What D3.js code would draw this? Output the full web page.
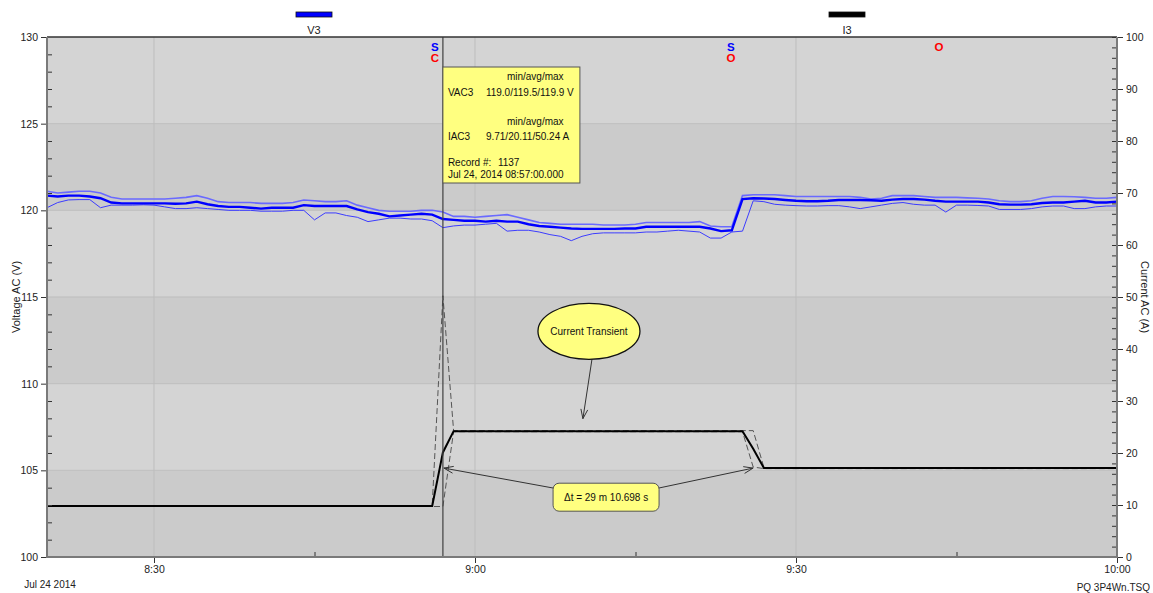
<!DOCTYPE html>
<html><head><meta charset="utf-8">
<script src="https://cdn.jsdelivr.net/npm/d3@7"></script>
<style>
body{margin:0;background:#fff}
text{font-family:"Liberation Sans",Arial,sans-serif}
</style>
</head><body>
<svg id="c" width="1153" height="593"></svg>
<script>
// ---------- data ----------
const startTime = "2014-07-24T08:20:00";
const endTime = "2014-07-24T10:00:00";
const cursorTime = "2014-07-24T08:57:00";
const deltaEndTime = "2014-07-24T09:26:10.698";

const voltAvg = [
 120.85,120.8,120.85,120.85,120.8,120.7,120.45,120.4,120.4,120.4,
 120.4,120.4,120.38,120.4,120.5,120.35,120.25,120.2,120.2,120.15,
 120.1,120.15,120.15,120.15,120.3,120.25,120.25,120.25,120.25,120.05,
 119.9,119.8,119.65,119.7,119.75,119.8,119.75,119.5,119.45,119.4,
 119.4,119.35,119.4,119.35,119.35,119.2,119.1,119.05,119.0,118.95,
 118.93,118.93,118.93,118.93,118.95,118.95,119.05,119.05,119.05,119.05,
 119.05,119.05,118.95,118.8,118.85,120.65,120.7,120.68,120.65,120.6,
 120.55,120.52,120.52,120.55,120.6,120.6,120.6,120.58,120.55,120.62,
 120.65,120.65,120.62,120.55,120.5,120.5,120.5,120.5,120.45,120.35,
 120.33,120.33,120.35,120.42,120.45,120.45,120.5,120.55,120.45,120.45,
 120.5];
const voltMax = [
 121.1,121.0,121.05,121.1,121.1,121.0,120.75,120.65,120.65,120.65,
 120.65,120.65,120.7,120.75,120.85,120.7,120.5,120.45,120.45,120.45,
 120.4,120.4,120.4,120.45,120.6,120.55,120.5,120.5,120.55,120.3,
 120.15,120.0,119.95,119.95,119.95,120.0,120.0,119.9,119.65,119.65,
 119.6,119.65,119.7,119.75,119.6,119.45,119.3,119.25,119.2,119.2,
 119.2,119.2,119.15,119.15,119.15,119.2,119.3,119.3,119.3,119.3,
 119.3,119.35,119.1,119.05,119.05,120.85,120.9,120.9,120.9,120.85,
 120.8,120.8,120.8,120.8,120.8,120.8,120.75,120.65,120.7,120.85,
 120.85,120.85,120.8,120.75,120.75,120.75,120.72,120.7,120.65,120.55,
 120.5,120.5,120.55,120.7,120.8,120.8,120.78,120.75,120.7,120.7,
 120.75];
const voltMin = [
 120.15,120.45,120.6,120.62,120.62,120.15,120.3,120.3,120.3,120.32,
 120.3,120.2,120.1,120.1,120.15,120.1,120.05,120.0,120.0,120.0,
 119.95,119.95,119.95,120.0,120.0,119.45,119.85,119.85,119.7,119.6,
 119.35,119.45,119.55,119.55,119.5,119.5,119.4,119.0,119.1,119.15,
 119.15,119.2,119.25,118.8,118.85,118.85,118.75,118.6,118.5,118.25,
 118.5,118.65,118.7,118.7,118.7,118.7,118.75,118.75,118.8,118.85,
 118.8,118.75,118.4,118.4,118.75,118.8,120.55,120.5,120.35,120.3,
 120.27,120.25,120.25,120.27,120.27,120.2,120.1,120.2,120.3,120.4,
 120.45,120.35,120.3,120.3,119.9,120.3,120.3,120.28,120.25,120.05,
 120.05,120.05,120.1,120.2,120.25,120.25,120.1,120.1,120.2,120.25,
 120.25];
const currAvg = [
 9.8,9.8,9.8,9.8,9.8,9.8,9.8,9.8,9.8,9.8,
 9.8,9.8,9.8,9.8,9.8,9.8,9.8,9.8,9.8,9.8,
 9.8,9.8,9.8,9.8,9.8,9.8,9.8,9.8,9.8,9.8,
 9.8,9.8,9.8,9.8,9.8,9.8,9.8,20.11,24.2,24.2,
 24.2,24.2,24.2,24.2,24.2,24.2,24.2,24.2,24.2,24.2,
 24.2,24.2,24.2,24.2,24.2,24.2,24.2,24.2,24.2,24.2,
 24.2,24.2,24.2,24.2,24.2,24.2,20.8,17.1,17.1,17.1,
 17.1,17.1,17.1,17.1,17.1,17.1,17.1,17.1,17.1,17.1,
 17.1,17.1,17.1,17.1,17.1,17.1,17.1,17.1,17.1,17.1,
 17.1,17.1,17.1,17.1,17.1,17.1,17.1,17.1,17.1,17.1,
 17.1];
const currMax = [
 9.85,9.85,9.85,9.85,9.85,9.85,9.85,9.85,9.85,9.85,
 9.85,9.85,9.85,9.85,9.85,9.85,9.85,9.85,9.85,9.85,
 9.85,9.85,9.85,9.85,9.85,9.85,9.85,9.85,9.85,9.85,
 9.85,9.85,9.85,9.85,9.85,9.85,9.85,50.24,24.3,24.3,
 24.3,24.3,24.3,24.3,24.3,24.3,24.3,24.3,24.3,24.3,
 24.3,24.3,24.3,24.3,24.3,24.3,24.3,24.3,24.3,24.3,
 24.3,24.3,24.3,24.3,24.3,24.3,24.3,17.2,17.2,17.2,
 17.2,17.2,17.2,17.2,17.2,17.2,17.2,17.2,17.2,17.2,
 17.2,17.2,17.2,17.2,17.2,17.2,17.2,17.2,17.2,17.2,
 17.2,17.2,17.2,17.2,17.2,17.2,17.2,17.2,17.2,17.2,
 17.2];
const currMin = [
 9.71,9.71,9.71,9.71,9.71,9.71,9.71,9.71,9.71,9.71,
 9.71,9.71,9.71,9.71,9.71,9.71,9.71,9.71,9.71,9.71,
 9.71,9.71,9.71,9.71,9.71,9.71,9.71,9.71,9.71,9.71,
 9.71,9.71,9.71,9.71,9.71,9.71,9.71,9.71,24.1,24.1,
 24.1,24.1,24.1,24.1,24.1,24.1,24.1,24.1,24.1,24.1,
 24.1,24.1,24.1,24.1,24.1,24.1,24.1,24.1,24.1,24.1,
 24.1,24.1,24.1,24.1,24.1,24.1,17.3,17.0,17.0,17.0,
 17.0,17.0,17.0,17.0,17.0,17.0,17.0,17.0,17.0,17.0,
 17.0,17.0,17.0,17.0,17.0,17.0,17.0,17.0,17.0,17.0,
 17.0,17.0,17.0,17.0,17.0,17.0,17.0,17.0,17.0,17.0,
 17.0];

const voltTicks = [100,105,110,115,120,125,130];
const currTicks = [0,10,20,30,40,50,60,70,80,90,100];
const timeTickLabels = ["08:30","09:00","09:30","10:00"];
const timeMinorTicks = ["08:45","09:15","09:45"];
const legendNames = ["V3","I3"];
const legendColors = ["#0000ff","#000000"];

const eventTimes = ["08:57:00","09:24:40","09:44:07"];
const eventRow1 = ["S","S","O"];
const eventRow2 = ["C","O",""];

const tooltipLines = [
  ["min/avg/max", ""],
  ["VAC3", "119.0/119.5/119.9 V"],
  ["", ""],
  ["min/avg/max", ""],
  ["IAC3", "9.71/20.11/50.24 A"],
  ["", ""],
  ["Record #:", "1137"],
  ["Jul 24, 2014 08:57:00.000", ""]
];

// ---------- scales ----------
const svg = d3.select("#c");
const L = 47, R = 1117, T = 37, B = 557;
const parse = d3.isoParse;
const t0 = parse(startTime), t1 = parse(endTime);
const times = d3.timeMinute.range(t0, d3.timeMinute.offset(t1, 1));
const day = s => parse("2014-07-24T" + (s.length === 5 ? s + ":00" : s));
const x = d3.scaleTime().domain([t0, t1]).range([L, R]);
const yV = d3.scaleLinear().domain([100, 130]).range([B, T]);
const yI = d3.scaleLinear().domain([0, 100]).range([B, T]);

// ---------- background bands ----------
const bands = d3.range(100, 130, 5);
svg.selectAll("rect.band").data(bands).join("rect")
  .attr("x", L).attr("width", R - L)
  .attr("y", d => yV(d + 5)).attr("height", d => yV(d) - yV(d + 5))
  .attr("fill", (d, i) => i % 2 === 0 ? "#cbcbcb" : "#d4d4d4");

// grid
svg.selectAll("line.hg").data(voltTicks.slice(1, -1)).join("line")
  .attr("x1", L).attr("x2", R).attr("y1", d => yV(d)).attr("y2", d => yV(d))
  .attr("stroke", "#bdbdbd").attr("stroke-width", 1);
svg.selectAll("line.vg").data(timeTickLabels.slice(0, -1)).join("line")
  .attr("x1", d => x(day(d))).attr("x2", d => x(day(d)))
  .attr("y1", T).attr("y2", B).attr("stroke", "#bdbdbd").attr("stroke-width", 1);

// ---------- current lines ----------
const lineI = arr => d3.line().x((d, i) => x(times[i])).y(d => yI(d))(arr);
const lineV = arr => d3.line().x((d, i) => x(times[i])).y(d => yV(d))(arr);

svg.append("path").attr("d", lineI(currMax)).attr("fill", "none")
  .attr("stroke", "#555").attr("stroke-width", 1).attr("stroke-dasharray", "6,3");
svg.append("path").attr("d", lineI(currMin)).attr("fill", "none")
  .attr("stroke", "#555").attr("stroke-width", 1).attr("stroke-dasharray", "6,3");
svg.append("path").attr("d", lineI(currAvg)).attr("fill", "none")
  .attr("stroke", "#000").attr("stroke-width", 2);

// ---------- voltage lines ----------
svg.append("path").attr("d", lineV(voltMax)).attr("fill", "none")
  .attr("stroke", "#6a6aff").attr("stroke-width", 1.6);
svg.append("path").attr("d", lineV(voltMin)).attr("fill", "none")
  .attr("stroke", "#3c3cff").attr("stroke-width", 1);
svg.append("path").attr("d", lineV(voltAvg)).attr("fill", "none")
  .attr("stroke", "#0000ff").attr("stroke-width", 2.4);

// ---------- cursor ----------
const cx = x(parse(cursorTime));
svg.append("line").attr("x1", cx).attr("x2", cx).attr("y1", T).attr("y2", B)
  .attr("stroke", "#404040").attr("stroke-width", 1.2);

// ---------- axes ----------
const tickFont = g => g.selectAll("text").attr("font-size", 10.5).attr("fill", "#222")
  .attr("font-family", "'Liberation Sans',Arial,sans-serif");

const gl = svg.append("g").attr("transform", `translate(${L},0)`)
  .call(d3.axisLeft(yV).tickValues(voltTicks).tickSize(6).tickPadding(3));
gl.select(".domain").remove(); tickFont(gl);
gl.selectAll("line").attr("stroke", "#333");
const glm = svg.append("g").attr("transform", `translate(${L},0)`)
  .call(d3.axisRight(yV).tickValues(d3.range(101, 130, 1).filter(v => v % 5)).tickSize(5).tickFormat(""));
glm.select(".domain").remove(); glm.selectAll("line").attr("stroke", "#333");

const gr = svg.append("g").attr("transform", `translate(${R},0)`)
  .call(d3.axisRight(yI).tickValues(currTicks).tickSize(6).tickPadding(3));
gr.select(".domain").remove(); tickFont(gr);
gr.selectAll("line").attr("stroke", "#333").attr("x1", -5);
const grm = svg.append("g").attr("transform", `translate(${R},0)`)
  .call(d3.axisLeft(yI).tickValues(d3.range(2, 100, 2).filter(v => v % 10)).tickSize(5).tickFormat(""));
grm.select(".domain").remove(); grm.selectAll("line").attr("stroke", "#333");

const gb = svg.append("g").attr("transform", `translate(0,${B})`)
  .call(d3.axisBottom(x).tickValues(timeTickLabels.map(day)).tickFormat(d3.timeFormat("%-H:%M")).tickSize(6).tickPadding(3));
gb.select(".domain").remove(); tickFont(gb);
gb.selectAll("line").attr("stroke", "#333");
const gbm = svg.append("g").attr("transform", `translate(0,${B})`)
  .call(d3.axisTop(x).tickValues(timeMinorTicks.map(day)).tickSize(5).tickFormat(""));
gbm.select(".domain").remove(); gbm.selectAll("line").attr("stroke", "#333");

// frame lines
svg.append("line").attr("x1", L).attr("x2", R).attr("y1", T).attr("y2", T).attr("stroke", "#333").attr("stroke-width", 1.5);
svg.append("line").attr("x1", L).attr("x2", L).attr("y1", T).attr("y2", B + 1).attr("stroke", "#7a7a7a").attr("stroke-width", 2);
svg.append("line").attr("x1", R).attr("x2", R).attr("y1", T).attr("y2", B + 1).attr("stroke", "#7a7a7a").attr("stroke-width", 2);
svg.append("line").attr("x1", L).attr("x2", R).attr("y1", B).attr("y2", B).attr("stroke", "#7a7a7a").attr("stroke-width", 2);

// axis titles
svg.append("text").attr("transform", `translate(20,${(T + B) / 2}) rotate(-90)`)
  .attr("text-anchor", "middle").attr("font-size", 11).attr("fill", "#222").text("Voltage AC (V)");
svg.append("text").attr("transform", `translate(1141,${(T + B) / 2}) rotate(90)`)
  .attr("text-anchor", "middle").attr("font-size", 11).attr("fill", "#222").text("Current AC (A)");

svg.append("text").attr("x", 50).attr("y", 588).attr("text-anchor", "middle")
  .attr("font-size", 10).attr("fill", "#222").text("Jul 24 2014");
svg.append("text").attr("x", 1150).attr("y", 591).attr("text-anchor", "end")
  .attr("font-size", 10).attr("fill", "#222").text("PQ 3P4Wn.TSQ");

// ---------- legend ----------
const legX = [314, 847];
legendNames.forEach((n, i) => {
  svg.append("rect").attr("x", legX[i] - 18).attr("y", 12).attr("width", 36).attr("height", 5)
    .attr("fill", legendColors[i]).attr("stroke", "#111").attr("stroke-width", 0.8);
  svg.append("text").attr("x", legX[i]).attr("y", 34).attr("text-anchor", "middle")
    .attr("font-size", 11).attr("fill", "#222").text(n);
});

// ---------- event markers ----------
eventTimes.forEach((t, i) => {
  const ex = x(day(t)) - 8;
  const c1 = eventRow1[i] === "S" ? "#0000ff" : "#ff0000";
  svg.append("text").attr("x", ex).attr("y", 51).attr("text-anchor", "middle")
    .attr("font-size", 11.5).attr("font-weight", "bold").attr("fill", c1).text(eventRow1[i]);
  if (eventRow2[i]) svg.append("text").attr("x", ex).attr("y", 62).attr("text-anchor", "middle")
    .attr("font-size", 11.5).attr("font-weight", "bold").attr("fill", "#ff0000").text(eventRow2[i]);
});

// ---------- tooltip ----------
const tip = svg.append("g").attr("transform", `translate(${cx},67)`);
tip.append("rect").attr("x", 0).attr("y", 0).attr("width", 137).attr("height", 116)
  .attr("fill", "#ffff80").attr("stroke", "#555").attr("stroke-width", 1);
const tipY = [13, 29, 45, 58, 73, 88, 99, 111];
tooltipLines.forEach((ln, i) => {
  if (ln[0] === "min/avg/max") {
    tip.append("text").attr("x", 64).attr("y", tipY[i]).attr("font-size", 10).attr("fill", "#111").text(ln[0]);
  } else {
    if (ln[0]) tip.append("text").attr("x", 5).attr("y", tipY[i]).attr("font-size", 10).attr("fill", "#111").text(ln[0]);
    if (ln[1]) tip.append("text").attr("x", ln[0] === "Record #:" ? 55 : 43).attr("y", tipY[i])
      .attr("font-size", 10).attr("fill", "#111").text(ln[1]);
  }
});

// ---------- annotations ----------
function arrow(x1, y1, x2, y2) {
  svg.append("line").attr("x1", x1).attr("y1", y1).attr("x2", x2).attr("y2", y2)
    .attr("stroke", "#333").attr("stroke-width", 1);
  const a = Math.atan2(y1 - y2, x1 - x2), len = 10, sp = 0.35;
  [a - sp, a + sp].forEach(b => svg.append("line")
    .attr("x1", x2).attr("y1", y2).attr("x2", x2 + len * Math.cos(b)).attr("y2", y2 + len * Math.sin(b))
    .attr("stroke", "#333").attr("stroke-width", 1));
}
// ellipse callout
const elx = x(day("09:10:39")), ely = yI(43.4);
arrow(elx + 3, ely + 28, x(day("09:10:05")), yI(26.6));
svg.append("ellipse").attr("cx", elx).attr("cy", ely).attr("rx", 51).attr("ry", 28)
  .attr("fill", "#ffff80").attr("stroke", "#111").attr("stroke-width", 1.3);
svg.append("text").attr("x", elx).attr("y", ely + 3.5).attr("text-anchor", "middle")
  .attr("font-size", 10).attr("fill", "#111").text("Current Transient");

// delta t
const dbx = x(day("09:12:15")), dby = yI(11.5);
const tipLevel = 17.1;
arrow(dbx - 52, dby - 9, cx + 1, yI(tipLevel));
arrow(dbx + 52, dby - 9, x(parse(deltaEndTime)) - 2, yI(tipLevel));
svg.append("rect").attr("x", dbx - 53).attr("y", dby - 14).attr("width", 106).attr("height", 28)
  .attr("rx", 6).attr("fill", "#ffff80").attr("stroke", "#555").attr("stroke-width", 1);
svg.append("text").attr("x", dbx).attr("y", dby + 4).attr("text-anchor", "middle")
  .attr("font-size", 10).attr("fill", "#111").text("Δt = 29 m 10.698 s");
</script>
</body></html>
